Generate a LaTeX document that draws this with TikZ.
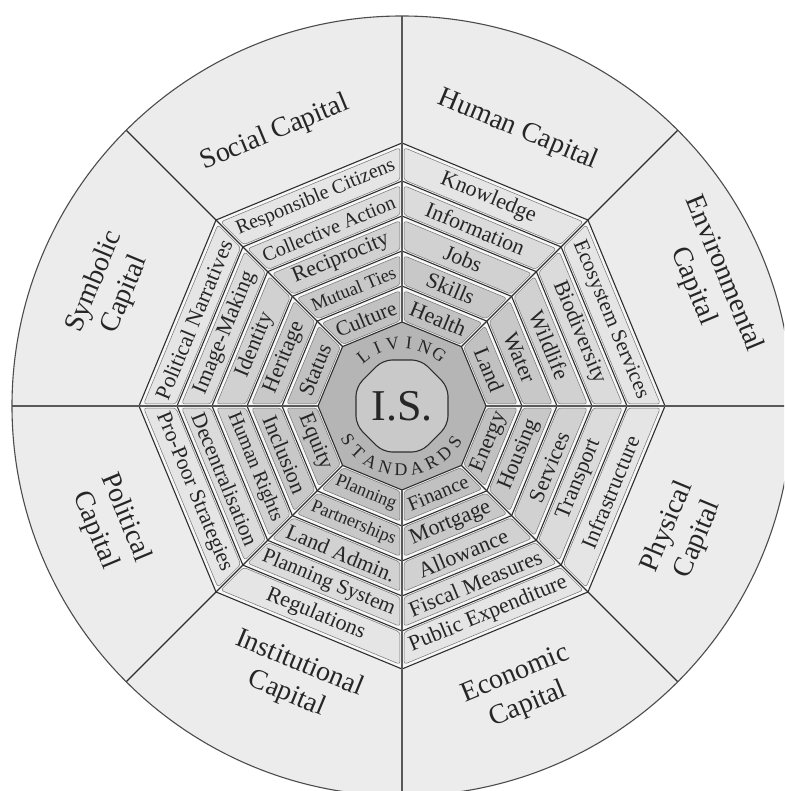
\documentclass[tikz,border=0pt]{standalone}
\usepackage{fontspec}
\setmainfont{Liberation Serif}
\definecolor{ringfill}{gray}{0.925}
\definecolor{c1}{gray}{0.90}
\definecolor{c2}{gray}{0.86}
\definecolor{c3}{gray}{0.82}
\definecolor{c4}{gray}{0.785}
\definecolor{c5}{gray}{0.755}
\definecolor{bandbg}{gray}{0.97}
\definecolor{boxline}{gray}{0.45}
\definecolor{centerfill}{gray}{0.71}
\definecolor{isfill}{gray}{0.79}
\definecolor{inkcol}{gray}{0.15}
\definecolor{linecol}{gray}{0.18}
\newsavebox\lblbox
\newcommand\fitlabel[2]{\sbox\lblbox{\fontsize{22}{24}\selectfont #2}\ifdim\wd\lblbox>#1pt\relax\resizebox{#1pt}{!}{\usebox\lblbox}\else\usebox\lblbox\fi}
\newcommand\drawband[7]{%
\begin{scope}[rotate={#1-90}]
\pgfmathsetmacro\ao{#2*0.92388}%
\pgfmathsetmacro\ai{#3*0.92388}%
\pgfmathsetmacro\xao{\ao*0.41421}%
\pgfmathsetmacro\xai{\ai*0.41421}%
\fill[bandbg] (-\xao,\ao) -- (\xao,\ao) -- (\xai,\ai) -- (-\xai,\ai) -- cycle;
\pgfmathsetmacro\aob{\ao-3.5}%
\pgfmathsetmacro\aib{\ai+1.8}%
\pgfmathsetmacro\xob{\aob*0.41421-2.2}%
\pgfmathsetmacro\xib{\aib*0.41421-2.2}%
\filldraw[fill=#4,draw=boxline,line width=0.5pt,rounded corners=3pt] (-\xob,\aob) -- (\xob,\aob) -- (\xib,\aib) -- (-\xib,\aib) -- cycle;
\pgfmathsetmacro\am{(\ao+\ai)/2}%
\node[bandtext,rotate=#6] at (0,\am) {\fitlabel{#5}{#7}};
\end{scope}}
\newcommand\drawsector[7]{%
\drawband{#1}{263}{225}{c1}{170}{#2}{#3}%
\drawband{#1}{225}{190}{c2}{142}{#2}{#4}%
\drawband{#1}{190}{155}{c3}{116}{#2}{#5}%
\drawband{#1}{155}{120}{c4}{90}{#2}{#6}%
\drawband{#1}{120}{84}{c5}{64}{#2}{#7}}
\begin{document}
\begin{tikzpicture}[x=1pt,y=1pt,
  bandtext/.style={inner sep=0pt,text=inkcol},
  captext/.style={inner sep=0pt,align=center,text=inkcol,font=\fontsize{28}{33}\selectfont},
  ringtext/.style={inner sep=0pt,text=inkcol,font=\fontsize{18}{18}\selectfont},
  octline/.style={draw=linecol,line width=1.1pt,line join=miter},
  radline/.style={draw=linecol,line width=1.1pt},
  axisline/.style={draw=gray!70!black,line width=1.7pt}]
\useasboundingbox (-402,-385) rectangle (382,406);
\clip (-402,-385) rectangle (382,406);
\fill[white] (-402,-385) rectangle (382,406);
\fill[ringfill] (0,0) circle (390);
% sectors: theta, text rotation, five labels outer to inner
\drawsector{67.5}{-22.5}{Knowledge}{Information}{Jobs}{Skills}{Health}
\drawsector{22.5}{-67.5}{Ecosystem Services}{Biodiversity}{Wildlife}{Water}{Land}
\drawsector{-22.5}{67.5}{Infrastructure}{Transport}{Services}{Housing}{Energy}
\drawsector{-67.5}{22.5}{Public Expenditure}{Fiscal Measures}{Allowance}{Mortgage}{Finance}
\drawsector{-112.5}{-22.5}{Regulations}{Planning System}{Land Admin.}{Partnerships}{Planning}
\drawsector{-157.5}{-67.5}{Pro-Poor Strategies}{Decentralisation}{Human Rights}{Inclusion}{Equity}
\drawsector{157.5}{67.5}{Political Narratives}{Image-Making}{Identity}{Heritage}{Status}
\drawsector{112.5}{22.5}{Responsible Citizens}{Collective Action}{Reciprocity}{Mutual Ties}{Culture}
% centre
\fill[centerfill] (0:84) -- (45:84) -- (90:84) -- (135:84) -- (180:84) -- (225:84) -- (270:84) -- (315:84) -- cycle;
\filldraw[fill=isfill,octline,rounded corners=9pt] (22.5:49.8) -- (67.5:49.8) -- (112.5:49.8) -- (157.5:49.8) -- (202.5:49.8) -- (247.5:49.8) -- (292.5:49.8) -- (337.5:49.8) -- cycle;
% octagon outlines
\foreach \R in {263,225,190,155,120,84}
  \draw[octline] (0:\R) -- (45:\R) -- (90:\R) -- (135:\R) -- (180:\R) -- (225:\R) -- (270:\R) -- (315:\R) -- cycle;
% radial dividers
\foreach \a in {45,135,225,315}
  \draw[radline] (\a:84) -- (\a:390);
\foreach \a in {0,90,180,270}
  \draw[axisline] (\a:84) -- (\a:390);
\draw[draw=gray!60!black,line width=1.1pt] (0,0) circle (390);
% capital labels
\node[captext,rotate=22.5] (social) at (-127,273) {Social Capital};
\node[captext,rotate=-22.5] (human) at (116,276) {Human Capital};
\node[captext,rotate=-67.5] (environmental) at (306,126) {Environmental\\Capital};
\node[captext,rotate=67.5] (physical) at (281,-127) {Physical\\Capital};
\node[captext,rotate=22.5] (economic) at (120,-284) {Economic\\Capital};
\node[captext,rotate=-22.5] (institutional) at (-109,-273) {Institutional\\Capital};
\node[captext,rotate=-67.5] (political) at (-292,-118) {Political\\Capital};
\node[captext,rotate=67.5] (symbolic) at (-292,118) {Symbolic\\Capital};
% living standards ring
\foreach \ch [count=\i from 0] in {L,I,V,I,N,G}
  \node[ringtext,rotate={38-\i*14.8}] (liv\i) at ({128-\i*14.8}:63) {\ch};
\foreach \ch [count=\i from 0] in {S,T,A,N,D,A,R,D,S}
  \node[ringtext,rotate={302+\i*14.25}] (std\i) at ({212+\i*14.25}:64) {\ch};
\node[inner sep=0pt,text=inkcol,font=\fontsize{44}{44}\selectfont] (is) at (0,0) {I.S.};
\end{tikzpicture}
\end{document}
